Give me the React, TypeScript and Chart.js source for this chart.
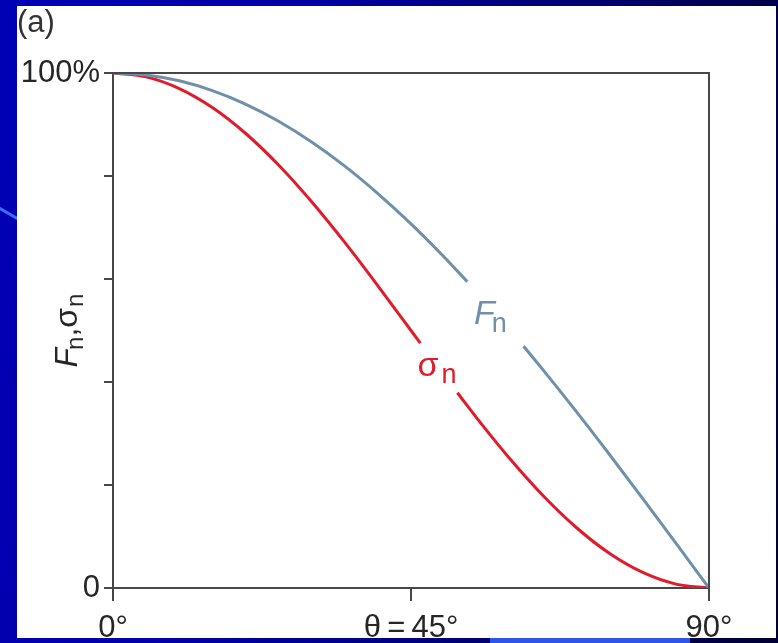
import React, { useEffect, useRef } from "react";
import { Chart, registerables } from "chart.js";

Chart.register(...registerables);

// ---- data ----
const fAngles = [0, 5, 10, 15, 20, 25, 30, 35, 40, 45, 50, 53.5, 58, 62, 65, 70, 75, 80, 85, 90];
const fValues = [100, 99.62, 98.48, 96.59, 93.97, 90.63, 86.6, 81.92, 76.6, 70.71, 64.28, 59.48, null, 46.95, 42.26, 34.2, 25.88, 17.36, 8.72, 0];
const sAngles = [0, 5, 10, 15, 20, 25, 30, 35, 40, 45, 46.4, 49, 52, 55, 60, 65, 70, 75, 80, 85, 90];
const sValues = [100, 99.24, 96.98, 93.3, 88.3, 82.14, 75, 67.1, 58.68, 50, 47.56, null, 37.91, 32.9, 25, 17.86, 11.7, 6.7, 3.02, 0.76, 0];
const xTickValues = [0, 45, 90];
const xTickLabels = ["0°", "θ\u2009=\u200945°", "90°"];
const yTickValues = [0, 20, 40, 60, 80, 100];
const yTickLabels = ["0", "", "", "", "", "100%"];

// label anchors in data units
const fLabelAt = { x: 54.5, y: 51.3 };
const sLabelAt = { x: 46.0, y: 41.2 };

const FONT = "'Liberation Sans', Arial, Helvetica, sans-serif";
const AXIS = "#474747";
const TEXT = "#262626";
const F_COLOR = "#6f90a9";
const S_COLOR = "#e01b2c";

type Part = { t: string; font: string; dy: number; kern?: number };

function drawParts(ctx: CanvasRenderingContext2D, parts: Part[], x: number, y: number, color: string, center = false) {
  let total = 0;
  for (const p of parts) {
    ctx.font = p.font;
    total += ctx.measureText(p.t).width + (p.kern || 0);
  }
  let cx = center ? x - total / 2 : x;
  ctx.fillStyle = color;
  ctx.textBaseline = "alphabetic";
  ctx.textAlign = "left";
  for (const p of parts) {
    ctx.font = p.font;
    ctx.fillText(p.t, cx + (p.kern || 0), y + p.dy);
    cx += ctx.measureText(p.t).width + (p.kern || 0);
  }
}

const annotatePlugin = {
  id: "annotate",
  afterDatasetsDraw(chart: any) {
    const { ctx, chartArea: a, scales } = chart;
    const xs = scales.x;
    const ys = scales.y;
    ctx.save();
    // frame top & right
    ctx.strokeStyle = AXIS;
    ctx.lineWidth = 2;
    ctx.beginPath();
    ctx.moveTo(a.left, a.top);
    ctx.lineTo(a.right, a.top);
    ctx.lineTo(a.right, a.bottom);
    ctx.stroke();

    // curve labels
    drawParts(
      ctx,
      [
        { t: "F", font: `italic 34px ${FONT}`, dy: 0 },
        { t: "n", font: `27px ${FONT}`, dy: 8, kern: -3 },
      ],
      xs.getPixelForValue(fLabelAt.x),
      ys.getPixelForValue(fLabelAt.y),
      F_COLOR
    );
    drawParts(
      ctx,
      [
        { t: "σ", font: `34px ${FONT}`, dy: 0 },
        { t: "n", font: `27px ${FONT}`, dy: 7, kern: 3 },
      ],
      xs.getPixelForValue(sLabelAt.x),
      ys.getPixelForValue(sLabelAt.y),
      S_COLOR
    );

    // y axis title
    ctx.translate(a.left - 36, (a.top + a.bottom) / 2);
    ctx.rotate(-Math.PI / 2);
    drawParts(
      ctx,
      [
        { t: "F", font: `italic 32px ${FONT}`, dy: 0 },
        { t: "n", font: `24px ${FONT}`, dy: 6, kern: -2 },
        { t: ",", font: `32px ${FONT}`, dy: 0 },
        { t: "σ", font: `32px ${FONT}`, dy: 0 },
        { t: "n", font: `24px ${FONT}`, dy: 6, kern: 1 },
      ],
      0,
      0,
      TEXT,
      true
    );
    ctx.restore();
  },
};

export default function App() {
  const ref = useRef<HTMLCanvasElement>(null);

  useEffect(() => {
    if (!ref.current) return;
    const chart = new Chart(ref.current, {
      type: "line",
      data: {
        datasets: [
          {
            label: "Fn",
            data: fAngles.map((a, i) => ({ x: a, y: fValues[i] })) as any,
            borderColor: F_COLOR,
            borderWidth: 3,
            pointRadius: 0,
            cubicInterpolationMode: "monotone",
            spanGaps: false,
            fill: false,
          },
          {
            label: "σn",
            data: sAngles.map((a, i) => ({ x: a, y: sValues[i] })) as any,
            borderColor: S_COLOR,
            borderWidth: 3,
            pointRadius: 0,
            cubicInterpolationMode: "monotone",
            spanGaps: false,
            fill: false,
          },
        ],
      },
      options: {
        responsive: false,
        animation: false,
        events: [],
        layout: { padding: { left: 0, right: 67, top: 67, bottom: 0 } },
        plugins: { legend: { display: false }, tooltip: { enabled: false }, title: { display: false } },
        scales: {
          x: {
            type: "linear",
            min: 0,
            max: 90,
            afterBuildTicks: (s: any) => {
              s.ticks = xTickValues.map((v) => ({ value: v }));
            },
            afterFit: (s: any) => {
              s.height = 50;
            },
            ticks: {
              autoSkip: false,
              maxRotation: 0,
              padding: 9,
              color: TEXT,
              font: { family: FONT, size: 31 },
              callback: (v: any) => {
                const i = xTickValues.indexOf(Number(v));
                return i >= 0 ? xTickLabels[i] : "";
              },
            },
            grid: { drawOnChartArea: false, drawTicks: true, tickLength: 13, color: AXIS, lineWidth: 2 },
            border: { display: true, color: AXIS, width: 2 },
          },
          y: {
            type: "linear",
            min: 0,
            max: 100,
            afterBuildTicks: (s: any) => {
              s.ticks = yTickValues.map((v) => ({ value: v }));
            },
            afterFit: (s: any) => {
              s.width = 96;
            },
            ticks: {
              autoSkip: false,
              padding: 4,
              color: TEXT,
              font: { family: FONT, size: 31 },
              callback: (v: any) => {
                const i = yTickValues.indexOf(Number(v));
                return i >= 0 ? yTickLabels[i] : "";
              },
            },
            grid: { drawOnChartArea: false, drawTicks: true, tickLength: 9, color: AXIS, lineWidth: 2 },
            border: { display: true, color: AXIS, width: 2 },
          },
        },
      },
      plugins: [annotatePlugin],
    } as any);
    return () => chart.destroy();
  }, []);

  return (
    <div
      style={{
        position: "fixed",
        left: 0,
        top: 0,
        width: 778,
        height: 643,
        overflow: "hidden",
        background: "linear-gradient(100deg, #0000b6 0%, #0000a4 35%, #00006a 70%, #000034 100%)",
      }}
    >
      <div
        style={{
          position: "absolute",
          left: -8,
          top: 214,
          width: 40,
          height: 3,
          background: "#3a6cff",
          transform: "rotate(30deg)",
        }}
      />
      <div
        style={{
          position: "absolute",
          left: 490,
          top: 638,
          width: 200,
          height: 5,
          background: "#2d55e6",
        }}
      />
      <div style={{ position: "absolute", left: 17, top: 6, width: 759, height: 632, background: "#ffffff" }}>
        <canvas ref={ref} width={759} height={632} style={{ display: "block" }} />
        <div
          style={{
            position: "absolute",
            left: 0,
            top: 1,
            font: `31px ${FONT}`,
            lineHeight: "30px",
            color: "#333333",
          }}
        >
          (a)
        </div>
      </div>
    </div>
  );
}
